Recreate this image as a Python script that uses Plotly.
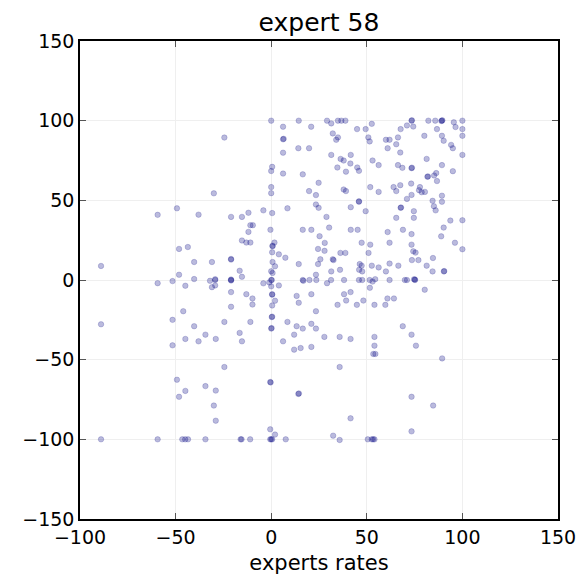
import plotly.graph_objects as go

# ---- data ----
pts_left = [
    (-89, 8.8), (-89, -27.8), (-89, -100),
    (-59.4, 40.9), (-59.4, -2), (-59.4, -100),
    (-49.3, 45), (-48.2, 19.5), (-48.2, 3.3), (-51.6, -0.7), (-44.9, -3.6),
    (-43.6, 20.7), (-40.3, 11.3), (-40.3, 0.6), (-38, 41),
    (-46, -19.6), (-51.6, -25), (-40.3, -29), (-34.4, -34.3), (-44.9, -37), (-38, -38.5), (-51.6, -41),
    (-49.3, -62.6), (-34.4, -66.6), (-44.9, -69.6), (-48.2, -73.3),
    (-45, -100), (-43.5, -100), (-46.5, -100), (-34.4, -100),
    (-32, -0.5), (-31, -4.5), (-31, 11.3), (-30, 54.4),
]
pts_midleft = [
    (-29.3, 0), (-29.3, 0.5), (-29.3, -3.4), (-29, -37), (-24.5, -26.3), (-24.5, -54.6),
    (-29, -69.4), (-30, -78.8), (-29, -88.3), (-24.5, 89.4),
    (-21, 0), (-21, 0.3), (-21, -0.3), (-21, -7.6), (-21, -16.8), (-21, 12.8), (-21, 13.2), (-21, 39.6),
    (-16.5, -33.2), (-15.3, -38.5), (-13, -8.9), (-9.8, -11.6), (-9.8, -15.4), (-10.9, -26.3),
    (-16, -100), (-15.5, -100), (-11, -100),
    (-15.3, 39.6), (-11.9, 42.2), (-4.1, 43.7),
    (-10.9, 34.4), (-9.6, 34.4), (-11.9, 30.2),
    (-15.3, 24.8), (-13, 23.5), (-10.9, 23.5),
    (-16.5, 5.8), (-15.3, 2), (-4.1, -2.1),
]
pts_zero = [
    (0, 100), (0.5, 71), (0, 68.4), (0, 58.3), (0, 54.5), (0.5, 42), (-0.4, 31.5),
    (0.7, 21.2), (0.7, 21.5), (1.7, 23.5), (0.5, 17.4), (0.7, 11.3), (2, 8.6), (0, 5.5), (0.7, 4.4),
    (-1, -1.5), (0, -4), (0.5, -8.9), (0.5, -9.2), (2, -13), (0.5, -16), (0.5, -23), (0.3, -23.3),
    (0, -30.5), (0.2, -30.2), (-0.5, -64), (-0.3, -64.3), (-0.5, -93.7), (2, -97),
    (0, -100), (0.5, -100), (-0.5, -100), (0, 0), (0.3, 0),
]
pts_midright = [
    (4, -3.4), (6.2, -38.5), (8.5, -26.3), (12, -34.3), (12, -43.7), (13.3, -29), (13.3, -10),
    (14.4, -14.3), (15.4, -42.7), (16.5, 0), (16.8, -0.5), (16.5, -30.5), (21, -8.9), (21, -27.5),
    (21, -42), (23.4, -19.6), (23.4, -30.5), (14.2, -71.5), (14.5, -71.2), (7.6, -100),
    (20, 0), (23.6, 0), (29.2, -2), (27.8, -35.7),
    (14.4, 100), (6.2, 96.2), (20.9, 96.2), (6.2, 88.3), (6.5, 88.6), (14.2, 82.7), (19.8, 82.7),
    (6.2, 79.9), (6.2, 66.8), (16.5, 66.3), (24.8, 61), (19.8, 55.8), (23.4, 53.3), (23.4, 47.4),
    (24.8, 45.3), (8.5, 45), (16.5, 31.5), (21, 31.5), (25.3, 27.5), (4, 16.1), (7.4, 14),
    (24.5, 19.5), (27.9, 18.3), (14.4, 10), (24.5, 10), (23.4, 3.3), (25.7, 13), (28.9, 39.6),
    (29.2, 100), (31.4, 98.3), (28, 23.3), (30.3, 32.9), (32.2, 13),
]
pts_right = [
    (31.3, 0), (32.4, -97.7), (35.8, -100.4), (35.8, -54.6), (35.8, -35.7), (41.5, -37), (41.5, -86.8),
    (38.1, 0), (45.9, 0), (47.6, 0), (51.5, 0), (53, -1), (54.4, 0.5),
    (51.6, -4.9), (38.1, -8.9), (41.5, -7.6), (39.2, -12.9), (34.7, -15.6), (44.8, -15.6),
    (48.2, -12.9), (54, -15.6), (59.7, -15.6),
    (54, -35.7), (54, -41.2), (53.4, -46.4), (54.5, -46.4),
    (50.5, -100), (52.6, -100), (54, -100), (53.3, -100),
    (34.9, 100), (36.7, 100), (38.8, 100), (52.6, 98), (32.2, 92), (34.9, 89.5), (34, 88),
    (44.9, 94.7), (49.4, 94.7), (50.8, 89.5), (51.5, 87), (31.4, 78.5), (41.6, 78.5), (36.3, 76),
    (37.9, 75), (34.6, 70.6), (41.4, 73.1), (45, 70.6), (45.9, 68.5), (39.1, 68), (53, 75),
    (56.2, 72.1), (37.9, 56.8), (39.1, 55.8), (51.8, 58.3), (56.2, 55.3), (45.9, 49.1), (45.9, 49.4),
    (41.6, 45.7), (49.4, 43.2), (41.6, 31.5), (45.2, 31.5), (47.3, 23.4), (51.8, 22.2), (36.2, 17),
    (38.8, 17), (50.9, 17), (32.6, 12.5), (46.3, 10), (47.3, 9), (52.6, 9), (56.2, 7.9), (31.4, 5.4),
    (36, 6.4), (46, 6.4), (47.6, 5.4), (60, 5.4),
]
pts_far = [
    (61.9, 0), (69.9, 0), (71, 0), (75.2, 0), (75.2, 0.3), (74.7, 0.4),
    (60.8, -11.6), (64.2, -11.6), (80.3, -6.1), (68.8, -29), (73.4, -34.3), (75.7, -41.2),
    (89.4, -49.2), (73.4, -73.3), (84.7, -78.8), (73.4, -95),
    (73.4, 100), (73.6, 100.2), (82.2, 100), (85.8, 100), (89.3, 100), (89.5, 100.2), (89, 99.8),
    (95.5, 99), (96.4, 96), (100, 100), (60, 88), (61.9, 88), (66.3, 89.5), (67.7, 94.7), (71, 97),
    (74.3, 96.3), (60.9, 82.7), (65.4, 85.2), (67.5, 80), (80.1, 90.5), (86.7, 94.7), (89.3, 90.5),
    (90.2, 87.4), (94.1, 84.8), (95, 82.7), (100, 94.7), (100, 90.5), (100, 78.5), (66.3, 72.1),
    (68.6, 70.4), (73.4, 70.2), (73.6, 70.5), (81.3, 76), (89.3, 72.1), (86.3, 67.1), (85.2, 65.6),
    (95, 68.3), (81.7, 64.8), (82, 65), (86.7, 62.1), (64, 58.3), (65.4, 55.8), (67.5, 59.5),
    (73.2, 60.5), (77.8, 58.3), (77.3, 56.4), (78.7, 55.1), (80.4, 55.3), (71, 50.9), (73.4, 53.4),
    (67.7, 45.3), (67.9, 45.5), (74.6, 43.2), (74.6, 39), (84.4, 49.7), (85.1, 46.3), (86, 43.7),
    (89.3, 52.9), (89.3, 49.1), (93.7, 37.3), (100, 37.5), (65.4, 39), (68.9, 31.5), (60.9, 30.1),
    (73.4, 28.8), (90.2, 32.9), (88.9, 27.4), (61.9, 23.4), (73.4, 22.2), (74.3, 18), (75.5, 17.2),
    (96.1, 23.4), (100, 19.3), (73.6, 12.5), (77, 12.5), (84.6, 13.8), (61.9, 10.3), (66.5, 9),
    (81.3, 9), (84.4, 5.4), (90.3, 5.4), (90.5, 5.6),
]

all_pts = pts_left + pts_midleft + pts_zero + pts_midright + pts_right + pts_far
expert_rates = [p[0] for p in all_pts]
other_rates = [p[1] for p in all_pts]

title_text = "expert 58"
x_label = "experts rates"
x_range = [-100, 150]
y_range = [-150, 150]

FONT = "DejaVu Sans"

fig = go.Figure(go.Scatter(
    x=expert_rates, y=other_rates, mode="markers",
    marker=dict(size=5.5, color="rgba(0,0,128,0.27)",
                line=dict(width=0.6, color="rgba(0,0,128,0.3)")),
    hoverinfo="skip", showlegend=False,
))

axis_common = dict(
    showline=True, linecolor="black", linewidth=1.5, mirror="allticks",
    ticks="inside", ticklen=6, tickwidth=1, tickcolor="#555",
    showgrid=True, gridcolor="#efefef", gridwidth=1.2, zeroline=False,
    automargin=False,
    dtick=50, tickfont=dict(family=FONT, size=19, color="black"),
)

# the page body adds an ~8px offset, so margins are shifted to compensate
fig.update_layout(
    width=587, height=583,
    margin=dict(l=72, r=37, t=33, b=72),
    paper_bgcolor="white", plot_bgcolor="white",
    font=dict(family=FONT, color="black"),
    title=dict(text=title_text, x=0.5, xref="paper", xanchor="center",
               y=1, yref="paper", yanchor="bottom", pad=dict(b=10),
               font=dict(family=FONT, size=25, color="black")),
    xaxis=dict(range=x_range, tick0=-100,
               title=dict(text=x_label, standoff=9, font=dict(family=FONT, size=21)),
               **axis_common),
    yaxis=dict(range=y_range, tick0=-150, **axis_common),
)

fig.write_html("out.html")
